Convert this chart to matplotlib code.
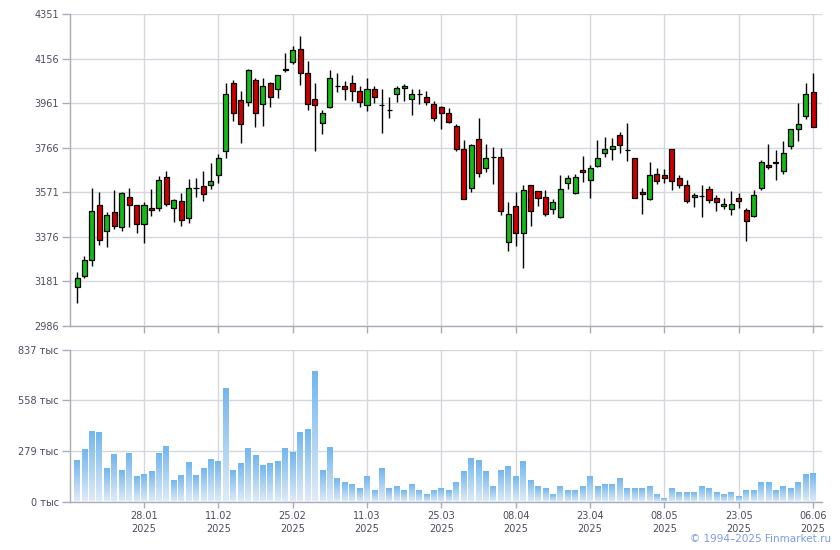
import numpy as np
import matplotlib
matplotlib.use("Agg")
import matplotlib.pyplot as plt
from matplotlib.colors import LinearSegmentedColormap

# ---------------- data ----------------
opens = [3156, 3204, 3273, 3514, 3401, 3484, 3418, 3549, 3514, 3431,
         3501, 3501, 3636, 3501, 3532, 3457, 3588, 3597, 3601, 3645,
         3750, 4051, 3973, 3968, 4064, 3959, 4051, 4021, 4104, 4143,
         4200, 4091, 3977, 3872, 3942, 4034, 4034, 4051, 4016, 3951,
         4021, 3951, 3933, 4003, 4029, 3981, 3999, 3990, 3959, 3942,
         3920, 3863, 3759, 3588, 3802, 3676, 3724, 3724, 3353, 3510,
         3392, 3602, 3575, 3549, 3497, 3462, 3610, 3567, 3667, 3623,
         3684, 3741, 3759, 3820, 3754, 3719, 3571, 3540, 3650, 3645,
         3759, 3632, 3602, 3549, 3553, 3584, 3545, 3510, 3497, 3545,
         3492, 3466, 3588, 3689, 3702, 3663, 3772, 3850, 3903, 4008]
highs = [3222, 3292, 3588, 3571, 3484, 3580, 3574, 3591, 3516, 3527,
         3584, 3641, 3663, 3540, 3567, 3628, 3632, 3663, 3697, 3737,
         4047, 4061, 4012, 4112, 4073, 4069, 4053, 4086, 4182, 4213,
         4256, 4147, 4047, 3933, 4108, 4095, 4060, 4086, 4038, 4069,
         4034, 4025, 3990, 4038, 4043, 4025, 4025, 4016, 3971, 3949,
         3938, 3868, 3798, 3781, 3894, 3781, 3768, 3763, 3527, 3571,
         3602, 3604, 3577, 3580, 3540, 3645, 3645, 3650, 3728, 3689,
         3798, 3811, 3807, 3833, 3872, 3720, 3588, 3702, 3676, 3672,
         3760, 3645, 3623, 3567, 3602, 3597, 3558, 3545, 3575, 3567,
         3501, 3580, 3711, 3781, 3754, 3794, 3847, 3962, 4051, 4095]
lows = [3086, 3196, 3248, 3342, 3331, 3412, 3403, 3421, 3395, 3351,
        3469, 3491, 3510, 3440, 3425, 3436, 3549, 3532, 3584, 3610,
        3722, 3884, 3785, 3949, 3855, 3859, 3945, 3984, 4099, 4134,
        4041, 3932, 3753, 3827, 3940, 4010, 3975, 3971, 3945, 3927,
        3962, 3829, 3898, 3968, 3971, 3910, 3958, 3955, 3885, 3850,
        3872, 3753, 3540, 3571, 3639, 3658, 3606, 3473, 3316, 3334,
        3239, 3422, 3510, 3466, 3475, 3460, 3584, 3565, 3615, 3545,
        3682, 3724, 3711, 3741, 3706, 3544, 3475, 3538, 3606, 3610,
        3580, 3588, 3523, 3506, 3462, 3523, 3488, 3497, 3471, 3501,
        3356, 3462, 3580, 3672, 3623, 3650, 3759, 3794, 3890, 3855]
closes = [3196, 3273, 3488, 3361, 3471, 3425, 3567, 3514, 3431, 3514,
          3492, 3623, 3519, 3536, 3449, 3588, 3589, 3562, 3619, 3719,
          4003, 3916, 3868, 4104, 3916, 4038, 3990, 4082, 4112, 4195,
          4095, 3959, 3955, 3916, 4069, 4034, 4021, 4012, 3968, 4025,
          3990, 3951, 3933, 4029, 4034, 3999, 3999, 3968, 3898, 3920,
          3877, 3762, 3541, 3776, 3654, 3719, 3724, 3488, 3475, 3392,
          3580, 3488, 3545, 3475, 3527, 3584, 3632, 3636, 3658, 3676,
          3719, 3759, 3772, 3776, 3754, 3545, 3562, 3645, 3619, 3632,
          3619, 3602, 3532, 3558, 3553, 3536, 3527, 3519, 3519, 3532,
          3444, 3558, 3702, 3680, 3698, 3741, 3846, 3868, 4003, 3855]
# volume, thousands
volumes = [226, 287, 386, 381, 182, 259, 171, 265, 138, 149,
           166, 265, 304, 116, 144, 215, 144, 182, 232, 221,
           624, 171, 210, 293, 254, 199, 210, 221, 293, 270,
           381, 397, 717, 171, 298, 132, 105, 99, 72, 143,
           66, 182, 72, 88, 66, 94, 66, 44, 66, 77,
           61, 105, 166, 237, 226, 166, 88, 171, 193, 138,
           221, 116, 83, 72, 44, 88, 66, 66, 83, 143,
           83, 99, 94, 127, 72, 72, 72, 83, 44, 22,
           77, 55, 55, 50, 83, 72, 50, 44, 55, 33,
           61, 66, 110, 105, 61, 88, 77, 105, 149, 155]

date_tick_idx = [9, 19, 29, 39, 49, 59, 69, 79, 89, 99]
date_tick_labels = ['28.01\n2025', '11.02\n2025', '25.02\n2025', '11.03\n2025',
                    '25.03\n2025', '08.04\n2025', '23.04\n2025', '08.05\n2025',
                    '23.05\n2025', '06.06\n2025']
price_ticks = [2986, 3181, 3376, 3571, 3766, 3961, 4156, 4351]
vol_ticks = [0, 279, 558, 837]

# ---------------- style ----------------
GRID = '#d4d8dd'
SPINE = '#a9acb6'
TXT = '#4b4b5e'
GREEN = '#14bb14'
RED = '#cc0000'

plt.rcParams['font.family'] = ['DejaVu Sans']

fig = plt.figure(figsize=(8.4, 5.5), dpi=100)
W, H = 840, 550
def rect(x0, y0, x1, y1):
    return [x0 / W, 1 - y1 / H, (x1 - x0) / W, (y1 - y0) / H]

ax = fig.add_axes(rect(70, 14, 822, 326))
axv = fig.add_axes(rect(70, 349.5, 822, 501.5))

n = len(opens)
x = np.arange(n)
o = np.array(opens, float); c = np.array(closes, float)
h = np.array(highs, float); l = np.array(lows, float)

for a in (ax, axv):
    a.set_xlim(-0.95, 100.2)
    for s in ('top', 'right'):
        a.spines[s].set_visible(False)
    for s in ('left', 'bottom'):
        a.spines[s].set_color(SPINE)
        a.spines[s].set_linewidth(1.0)
    a.set_xticks(date_tick_idx)
    a.grid(True, color=GRID, linewidth=1.0)
    a.set_axisbelow(True)
    a.tick_params(colors=SPINE, labelcolor=TXT, labelsize=7, width=1)

# candles
ax.vlines(x, l, h, color='black', linewidth=1.0, zorder=3)
up = c >= o
bottoms = np.minimum(o, c)
heights = np.abs(c - o)
ax.bar(x, heights, bottom=bottoms, width=0.68,
       color=[GREEN if u else RED for u in up],
       edgecolor='black', linewidth=0.9, zorder=4)

ax.set_ylim(2986, 4351)
ax.set_yticks(price_ticks)
ax.set_yticklabels([str(t) for t in price_ticks])
ax.tick_params(axis='y', length=6, pad=2)
ax.tick_params(axis='x', length=5, labelbottom=False)

# volume bars with vertical gradient
cmap = LinearSegmentedColormap.from_list('vg', ['#e1ecf8', '#72b6ee'])
grad = np.linspace(0, 1, 128).reshape(-1, 1)
for i, v in enumerate(volumes):
    axv.imshow(grad, extent=[i - 0.39, i + 0.39, 0, v], origin='lower',
               cmap=cmap, aspect='auto', interpolation='bilinear', zorder=3)
axv.set_xlim(-0.95, 100.2)
axv.set_ylim(0, 837)
axv.set_yticks(vol_ticks)
axv.set_yticklabels([f'{t} тыс' for t in vol_ticks])
axv.set_xticklabels(date_tick_labels, linespacing=1.35)
axv.tick_params(axis='y', length=6, pad=2)
axv.tick_params(axis='x', length=4, pad=3)

fig.text(0.989, 0.011, '© 1994–2025 Finmarket.ru', ha='right', va='bottom',
         color='#7b9be6', fontsize=7.5)

fig.savefig('out.png', dpi=100)
